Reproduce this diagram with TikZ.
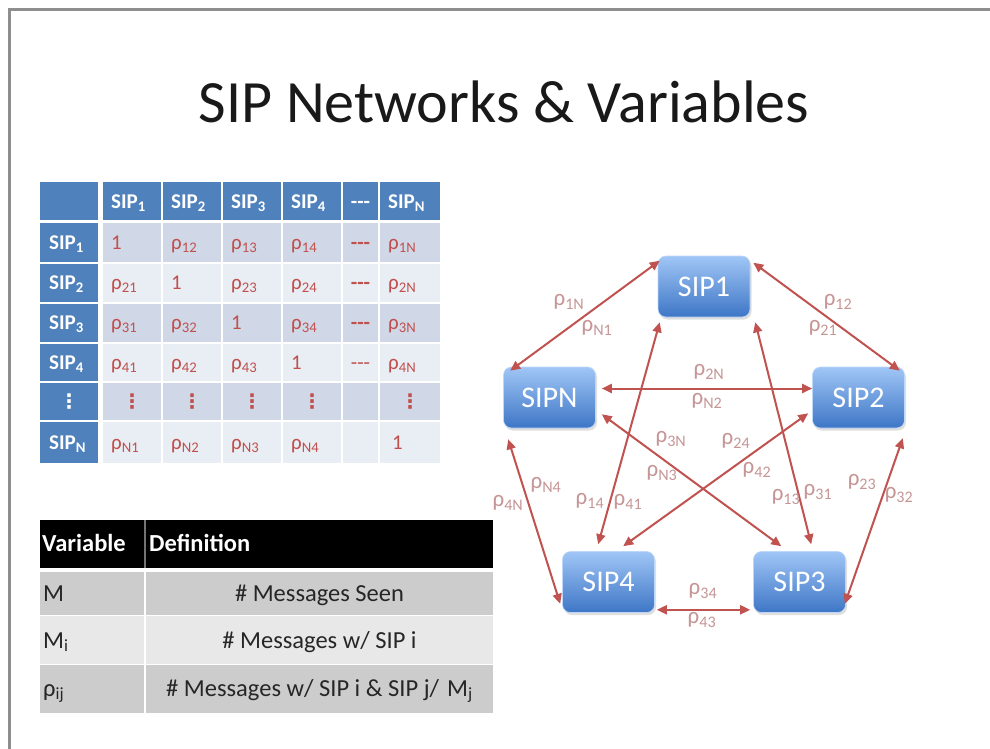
\documentclass[tikz,border=0pt]{standalone}
\usepackage{fontspec}
\setmainfont{Carlito}
\newfontfamily\dotsfont{DejaVu Sans}
\usetikzlibrary{arrows.meta,shadows,calc}
\definecolor{hdrblue}{RGB}{79,129,189}
\definecolor{rowa}{RGB}{208,216,232}
\definecolor{rowb}{RGB}{233,237,244}
\definecolor{cellred}{RGB}{192,80,77}
\definecolor{linkred}{RGB}{192,82,80}
\definecolor{labred}{RGB}{198,150,150}
\definecolor{greyA}{RGB}{204,204,204}
\definecolor{greyB}{RGB}{232,232,232}
\definecolor{framegrey}{RGB}{142,142,142}
\definecolor{boxtop}{RGB}{160,198,246}
\definecolor{boxbot}{RGB}{62,118,198}
\newcommand\rsub[1]{ρ\textsubscript{#1}}
\newcommand\threedash{-{}-{}-}
\begin{document}
\begin{tikzpicture}[x=1pt,y=-1pt,
  mtxt/.style={anchor=base west,inner sep=0,text=cellred,font=\fontsize{21}{23}\selectfont},
  mctr/.style={anchor=base,inner sep=0,text=cellred,font=\fontsize{21}{23}\selectfont\bfseries},
  mdots/.style={inner sep=0,text=cellred,font=\dotsfont\fontsize{20}{20}\selectfont\bfseries},
  mhdr/.style={anchor=base west,inner sep=0,text=white,font=\fontsize{21}{23}\selectfont\bfseries},
  vhdr/.style={anchor=base west,inner sep=0,text=white,font=\fontsize{24.5}{26}\selectfont\bfseries},
  vtxt/.style={anchor=base west,inner sep=0,text=black!85,font=\fontsize{24.5}{26}\selectfont},
  vdef/.style={anchor=base,inner sep=0,text=black!85,font=\fontsize{24.5}{26}\selectfont},
  sipbox/.style={rounded corners=8pt,minimum width=92pt,minimum height=61pt,inner sep=0,
    top color=boxtop,bottom color=boxbot,draw=boxtop!70!white,line width=0.6pt,
    text=white,font=\fontsize{30}{32}\selectfont,
    drop shadow={opacity=0.25,shadow xshift=1.5pt,shadow yshift=-2.5pt}},
  link/.style={draw=linkred,line width=2pt,>={Triangle[length=10pt,width=9pt]},<->},
  lab/.style={inner sep=0,text=labred,font=\fontsize{23}{25}\selectfont}]
\useasboundingbox (0,0) rectangle (990,749);
\fill[white] (0,0) rectangle (990,749);
% slide frame
\draw[framegrey,line width=3pt] (9.5,749) -- (9.5,9.5) -- (990,9.5);

% title
\node[anchor=base,inner sep=0,text=black!90,font=\fontsize{60}{66}\selectfont] (title) at (504,123) {SIP Networks \& Variables};

% ---------------- correlation matrix ----------------
\foreach \xa/\xb in {40/98,103/161,163/221,223/281,283/341,343/378,380/440}
  \fill[hdrblue] (\xa,182) rectangle (\xb,220);
\foreach \ya/\yb/\cc in {223/262/rowa,264/302/rowb,304/342/rowa,344/381/rowb,383/420/rowa,422/463/rowb}{
  \fill[hdrblue] (40,\ya) rectangle (98,\yb);
  \foreach \xa/\xb in {103/161,163/221,223/281,283/341,343/378,380/440}
    \fill[\cc] (\xa,\ya) rectangle (\xb,\yb);
}
% column heads
\node[mhdr] (h1) at (111,208) {SIP\textsubscript{1}};
\node[mhdr] (h2) at (171,208) {SIP\textsubscript{2}};
\node[mhdr] (h3) at (231,208) {SIP\textsubscript{3}};
\node[mhdr] (h4) at (291,208) {SIP\textsubscript{4}};
\node[anchor=base,inner sep=0,text=white,font=\fontsize{21}{23}\selectfont\bfseries] (h5) at (360.5,208) {\threedash};
\node[mhdr] (h6) at (388,208) {SIP\textsubscript{N}};
% row heads
\node[mhdr] (v1) at (49,249) {SIP\textsubscript{1}};
\node[mhdr] (v2) at (49,289) {SIP\textsubscript{2}};
\node[mhdr] (v3) at (49,329) {SIP\textsubscript{3}};
\node[mhdr] (v4) at (49,369) {SIP\textsubscript{4}};
\node[mdots,text=white] (v5) at (69,401.5) {⋮};
\node[mhdr] (v6) at (49,449) {SIP\textsubscript{N}};
% row 1
\node[mtxt] (m11) at (111,249) {1};
\node[mtxt] (m12) at (171,249) {\rsub{12}};
\node[mtxt] (m13) at (231,249) {\rsub{13}};
\node[mtxt] (m14) at (291,249) {\rsub{14}};
\node[mctr] (m15) at (360.5,249) {\threedash};
\node[mtxt] (m16) at (388,249) {\rsub{1N}};
% row 2
\node[mtxt] (m21) at (111,289) {\rsub{21}};
\node[mtxt] (m22) at (171,289) {1};
\node[mtxt] (m23) at (231,289) {\rsub{23}};
\node[mtxt] (m24) at (291,289) {\rsub{24}};
\node[mctr] (m25) at (360.5,289) {\threedash};
\node[mtxt] (m26) at (388,289) {\rsub{2N}};
% row 3
\node[mtxt] (m31) at (111,329) {\rsub{31}};
\node[mtxt] (m32) at (171,329) {\rsub{32}};
\node[mtxt] (m33) at (231,329) {1};
\node[mtxt] (m34) at (291,329) {\rsub{34}};
\node[mctr] (m35) at (360.5,329) {\threedash};
\node[mtxt] (m36) at (388,329) {\rsub{3N}};
% row 4
\node[mtxt] (m41) at (111,369) {\rsub{41}};
\node[mtxt] (m42) at (171,369) {\rsub{42}};
\node[mtxt] (m43) at (231,369) {\rsub{43}};
\node[mtxt] (m44) at (291,369) {1};
\node[mctr,font=\fontsize{21}{23}\selectfont] (m45) at (360.5,369) {\threedash};
\node[mtxt] (m46) at (388,369) {\rsub{4N}};
% row of dots
\node[mdots] (m51) at (132,401.5) {⋮};
\node[mdots] (m52) at (192,401.5) {⋮};
\node[mdots] (m53) at (252,401.5) {⋮};
\node[mdots] (m54) at (312,401.5) {⋮};
\node[mdots] (m56) at (410,401.5) {⋮};
% row N
\node[mtxt] (m61) at (111,449) {\rsub{N1}};
\node[mtxt] (m62) at (171,449) {\rsub{N2}};
\node[mtxt] (m63) at (231,449) {\rsub{N3}};
\node[mtxt] (m64) at (291,449) {\rsub{N4}};
\node[mtxt] (m66) at (392,449) {1};

% ---------------- variable table ----------------
\fill[black] (40,520) rectangle (493,568);
\fill[black!55] (144,520) rectangle (145.5,568);
\fill[greyA] (40,572) rectangle (493,615);
\fill[greyB] (40,616) rectangle (493,664);
\fill[greyA] (40,665) rectangle (493,713);
\fill[white] (144,572) rectangle (146,713);
\node[vhdr] (vh1) at (42,551) {Variable};
\node[vhdr] (vh2) at (149,551) {Definition};
\node[vtxt] (va) at (43,601) {M};
\node[vtxt] (vb) at (43,648) {M\textsubscript{i}};
\node[vtxt] (vc) at (43,696) {ρ\textsubscript{ij}};
\node[vdef] (da) at (319.5,601) {\# Messages Seen};
\node[vdef] (db) at (319.5,648) {\# Messages w/ SIP i};
\node[vdef] (dc) at (319.5,696) {\# Messages w/ SIP i \& SIP j/\,\,M\textsubscript{j}};

% ---------------- SIP network ----------------
\node[sipbox] (sip1) at (704,286.5) {SIP1};
\node[sipbox] (sipn) at (549.5,397.5) {SIPN};
\node[sipbox] (sip2) at (858.5,397.5) {SIP2};
\node[sipbox] (sip4) at (608.5,582) {SIP4};
\node[sipbox] (sip3) at (799.5,582) {SIP3};

\draw[link] ($(sip1.north west)+(2,5)$) -- ($(sipn.north west)+(7,4)$);
\draw[link] ($(sip1.north east)+(3,7)$) -- ($(sip2.north east)+(-5,4)$);
\draw[link] ($(sipn.east)+(6,-9)$) -- ($(sip2.west)+(0,-9)$);
\draw[link] ($(sip1.south west)+(2,5)$) -- ($(sip4.north west)+(36,-7)$);
\draw[link] ($(sip1.south east)+(5,5)$) -- ($(sip3.north west)+(58,-7)$);
\draw[link] ($(sipn.south east)+(6,-14)$) -- ($(sip3.north west)+(28,-5)$);
\draw[link] ($(sip2.south west)+(-4,-15)$) -- ($(sip4.north west)+(61,-5)$);
\draw[link] ($(sipn.south west)+(5,11)$) -- ($(sip4.south west)+(-2,-9)$);
\draw[link] ($(sip2.south east)+(-2,10)$) -- ($(sip3.south east)+(-1,-9)$);
\draw[link] ($(sip4.south east)+(2,-3)$) -- ($(sip3.south west)+(-3,-3)$);

\node[lab] (l1n) at (569,302) {\rsub{1N}};
\node[lab] (ln1) at (597,328) {\rsub{N1}};
\node[lab] (l12) at (838,302) {\rsub{12}};
\node[lab] (l21) at (823,328) {\rsub{21}};
\node[lab] (l2n) at (709,372) {\rsub{2N}};
\node[lab] (ln2) at (707,401) {\rsub{N2}};
\node[lab] (l3n) at (671,439) {\rsub{3N}};
\node[lab] (l24) at (736,441) {\rsub{24}};
\node[lab] (ln3) at (662,473) {\rsub{N3}};
\node[lab] (l42) at (757,470) {\rsub{42}};
\node[lab] (ln4) at (546,485) {\rsub{N4}};
\node[lab] (l4n) at (508,503) {\rsub{4N}};
\node[lab] (l14) at (590,501) {\rsub{14}};
\node[lab] (l41) at (628,502) {\rsub{41}};
\node[lab] (l13) at (786,497) {\rsub{13}};
\node[lab] (l31) at (818,492) {\rsub{31}};
\node[lab] (l23) at (862,482) {\rsub{23}};
\node[lab] (l32) at (899,495) {\rsub{32}};
\node[lab] (l34) at (703,591) {\rsub{34}};
\node[lab] (l43) at (702,620) {\rsub{43}};
\end{tikzpicture}
\end{document}
